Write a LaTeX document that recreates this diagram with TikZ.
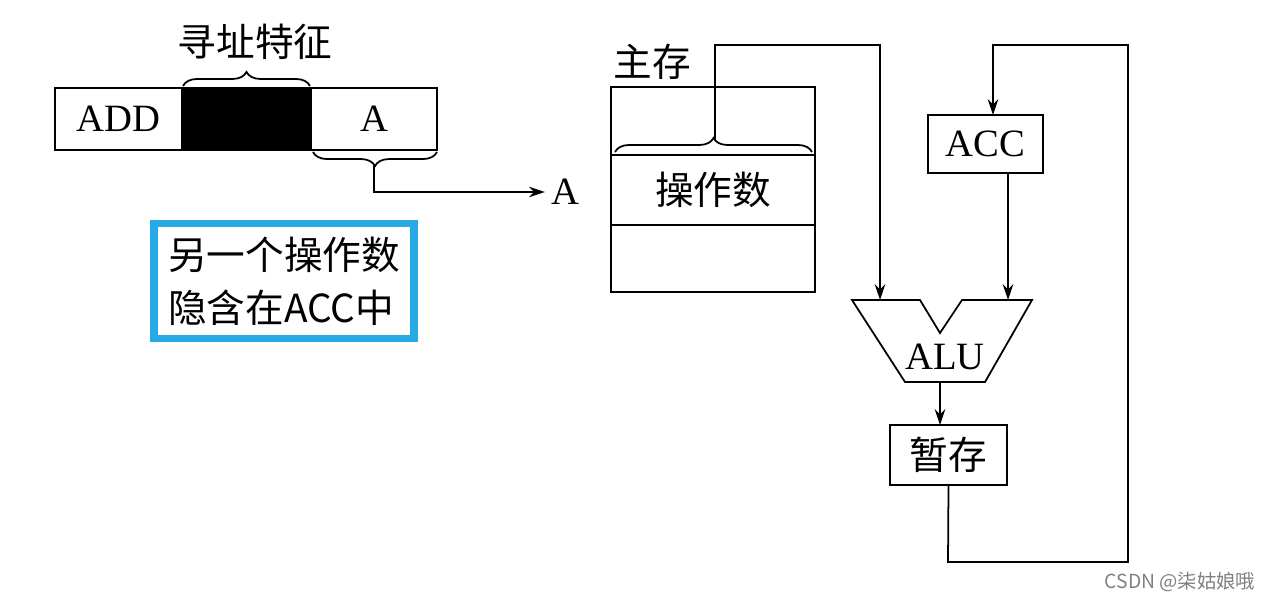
\documentclass[tikz,border=0pt]{standalone}
\usepackage{fontspec}
\setmainfont{Liberation Serif}
\newfontfamily\cjk{Noto Sans CJK SC}
\usetikzlibrary{decorations.pathreplacing,arrows.meta}
\begin{document}
\begin{tikzpicture}[x=0.02cm,y=-0.02cm,
  box/.style={draw,line width=1pt,inner sep=0pt},
  lbl/.style={font=\fontsize{22}{24}\selectfont},
  cl/.style={font=\cjk\fontsize{22}{24}\selectfont},
  ar/.style={line width=1pt,-{Stealth[length=9pt,width=6pt]}},
  ln/.style={line width=1pt},
  br/.style={decorate,decoration={brace,amplitude=8pt},line width=1pt}]
\useasboundingbox (0,0) rectangle (1263,600);
% instruction
\node[box,minimum width=127*0.02cm,minimum height=62*0.02cm,lbl] (add) at (118.5,119) {ADD};
\node[box,fill=black,minimum width=129*0.02cm,minimum height=62*0.02cm] (blk) at (246.5,119) {};
\node[box,minimum width=126*0.02cm,minimum height=62*0.02cm,lbl] (a) at (374,119) {A};
\draw[br] (183,86) -- (310,86);
\node[cl] (xz) at (255,42) {寻址特征};
\draw[br] (437,152) -- (313,152);
\coordinate (bt) at (374,165);
\node[lbl] (aa) at (565,192) {A};
\draw[ar] (bt) |- (aa.west);
% blue box
\node[draw={rgb,255:red,40;green,170;blue,230},line width=4pt,minimum width=260*0.02cm,minimum height=115*0.02cm,align=left,font=\cjk\fontsize{22}{30}\selectfont] (note) at (284,281) {另一个操作数\\隐含在ACC中};
% memory
\node[cl] (zc) at (652,62) {主存};
\node[box,minimum width=204*0.02cm,minimum height=205*0.02cm] (mem) at (713,189.5) {};
\draw[ln] (611,155) -- (815,155) (611,225) -- (815,225);
\node[cl] (czs) at (713,190) {操作数};
\draw[br] (615,152) -- (812,152);
\coordinate (mt) at (715,140);
% ALU
\draw[ln] (852,300) -- (920,300) -- (940,333) -- (962,300) -- (1032,300) -- (985,382) -- (905,382) -- cycle;
\node[lbl] (alu) at (945,357) {ALU};
\coordinate (aluL) at (880,300);
\coordinate (aluR) at (1008,300);
\coordinate (aluB) at (940,382);
% ACC
\node[box,minimum width=115*0.02cm,minimum height=58*0.02cm,lbl] (acc) at (985.5,144) {ACC};
\node[box,minimum width=117*0.02cm,minimum height=60*0.02cm,cl] (zc2) at (948.5,455) {暂存};
\coordinate (zt) at (940,425);
\draw[ar] (mt) -- (715,45) -| (aluL);
\draw[ar] (1008,173) -- (aluR);
\draw[ar] (aluB) -- (zt);
\draw[ar] (zc2.south) -- (948,562) -- (1128,562) -- (1128,45) -| (993,115);
\node[font=\cjk\fontsize{11}{12}\selectfont,text=gray] (wm) at (1180,582) {CSDN @柒姑娘哦};
\end{tikzpicture}
\end{document}
